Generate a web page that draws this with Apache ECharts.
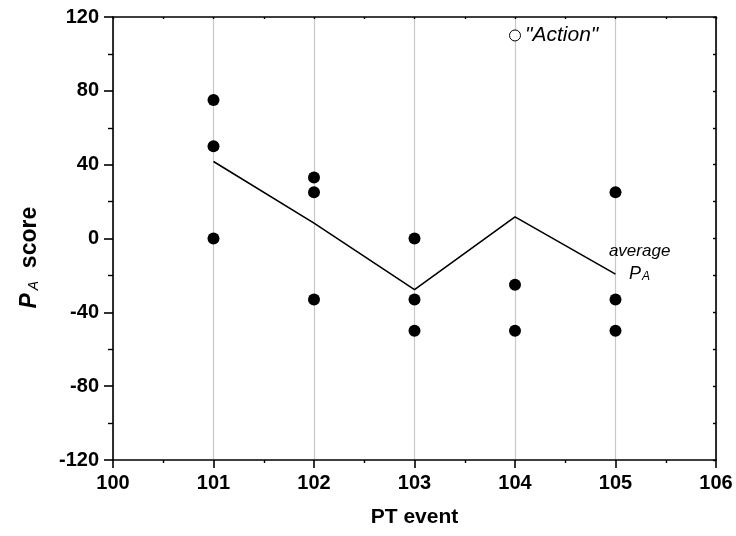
<!DOCTYPE html>
<html>
<head>
<meta charset="utf-8">
<script src="https://cdn.jsdelivr.net/npm/echarts@6/dist/echarts.min.js"></script>
<style>html,body{margin:0;padding:0;background:#fff}#c{width:736px;height:536px}</style>
</head>
<body>
<div id="c"></div>
<script>
var events = [101, 102, 103, 104, 105];
var scorePoints = [
  [101, 75], [101, 50], [101, 0],
  [102, 33], [102, 25], [102, -33],
  [103, 0], [103, -33], [103, -50],
  [104, -25], [104, -50],
  [105, 25], [105, -33], [105, -50]
];
var actionPoint = [[104, 110]];
var averageValues = [41.7, 8.3, -27.7, 11.7, -19.3];
var averageWordPos = [[105.24, -7]];
var averageSymPos = [[105.24, -17.5]];
var xTicks = [100, 101, 102, 103, 104, 105, 106];
var yTicks = [-120, -80, -40, 0, 40, 80, 120];

var FONT = 'Liberation Sans, Arial, sans-serif';
var chart = echarts.init(document.getElementById('c'));
var avgLine = events.map(function (e, i) { return [e, averageValues[i]]; });

chart.setOption({
  animation: false,
  grid: { left: 113, right: 20, top: 17, bottom: 76 },
  xAxis: [{
    type: 'value', min: xTicks[0], max: xTicks[xTicks.length - 1], interval: 1,
    axisLine: { onZero: false, lineStyle: { color: '#000', width: 1.6 } },
    axisTick: { length: 8, lineStyle: { color: '#000', width: 1.6 } },
    minorTick: { show: true, splitNumber: 2, length: 3, lineStyle: { color: '#000', width: 1.4 } },
    axisLabel: { color: '#000', fontFamily: FONT, fontWeight: 'bold', fontSize: 20, margin: 13 },
    splitLine: { show: true, lineStyle: { color: '#c8c8c8', width: 1.2 } },
    name: 'PT event', nameLocation: 'middle', nameGap: 47,
    nameTextStyle: { color: '#000', fontFamily: FONT, fontWeight: 'bold', fontSize: 21 }
  }, {
    type: 'value', min: xTicks[0], max: xTicks[xTicks.length - 1], interval: 1, position: 'top',
    axisLine: { show: true, onZero: false, lineStyle: { color: '#000', width: 1.6 } },
    axisTick: { show: true, inside: true, length: 2, lineStyle: { color: '#000', width: 1.4 } },
    minorTick: { show: true, splitNumber: 2, length: 2, lineStyle: { color: '#000', width: 1.4 } },
    axisLabel: { show: false }, splitLine: { show: false }
  }],
  yAxis: [{
    type: 'value', min: yTicks[0], max: yTicks[yTicks.length - 1], interval: 40,
    axisLine: { onZero: false, lineStyle: { color: '#000', width: 1.6 } },
    axisTick: { length: 9, lineStyle: { color: '#000', width: 1.6 } },
    minorTick: { show: true, splitNumber: 2, length: 5, lineStyle: { color: '#000', width: 1.4 } },
    axisLabel: { color: '#000', fontFamily: FONT, fontWeight: 'bold', fontSize: 20, margin: 14 },
    splitLine: { show: false },
    name: '{p|P}{a|A}{s|  score      }', nameLocation: 'middle', nameGap: 72, nameRotate: 90,
    nameTextStyle: {
      color: '#000', fontFamily: FONT,
      rich: {
        p: { fontFamily: FONT, fontSize: 23, fontWeight: 'bold', fontStyle: 'italic', color: '#000', lineHeight: 26, verticalAlign: 'bottom' },
        a: { fontFamily: FONT, fontSize: 14, fontStyle: 'italic', color: '#000', padding: [14, 0, 0, 3], verticalAlign: 'bottom' },
        s: { fontFamily: FONT, fontSize: 23, fontWeight: 'bold', color: '#000', lineHeight: 26, verticalAlign: 'bottom' }
      }
    }
  }, {
    type: 'value', min: yTicks[0], max: yTicks[yTicks.length - 1], interval: 40, position: 'right',
    axisLine: { show: true, onZero: false, lineStyle: { color: '#000', width: 1.6 } },
    axisTick: { show: true, inside: true, length: 3, lineStyle: { color: '#000', width: 1.4 } },
    minorTick: { show: true, splitNumber: 2, length: 3, lineStyle: { color: '#000', width: 1.4 } },
    axisLabel: { show: false }, splitLine: { show: false }
  }],
  series: [{
    type: 'line', data: avgLine, symbol: 'none',
    lineStyle: { color: '#000', width: 1.6 }, z: 3
  }, {
    type: 'scatter', data: scorePoints, symbol: 'circle', symbolSize: 12,
    itemStyle: { color: '#000', opacity: 1 }, z: 4
  }, {
    type: 'scatter', data: actionPoint, symbol: 'circle', symbolSize: 11,
    itemStyle: { color: '#fff', borderColor: '#000', borderWidth: 1, opacity: 1 }, z: 4,
    label: {
      show: true, position: 'right', distance: 4, formatter: '"Action"',
      color: '#000', fontFamily: FONT, fontStyle: 'italic', fontSize: 21
    }
  }, {
    type: 'scatter', data: averageWordPos, symbolSize: 0, silent: true,
    itemStyle: { opacity: 1 },
    label: {
      show: true, position: 'inside', formatter: 'average',
      fontFamily: FONT, fontStyle: 'italic', fontSize: 17, color: '#000'
    }
  }, {
    type: 'scatter', data: averageSymPos, symbolSize: 0, silent: true,
    itemStyle: { opacity: 1 },
    label: {
      show: true, position: 'inside', formatter: '{p|P}{a|A}',
      rich: {
        p: { fontFamily: FONT, fontStyle: 'italic', fontSize: 18, color: '#000', lineHeight: 22, verticalAlign: 'bottom' },
        a: { fontFamily: FONT, fontStyle: 'italic', fontSize: 12, color: '#000', padding: [12, 0, 0, 1], verticalAlign: 'bottom' }
      }
    }
  }]
});
</script>
</body>
</html>
